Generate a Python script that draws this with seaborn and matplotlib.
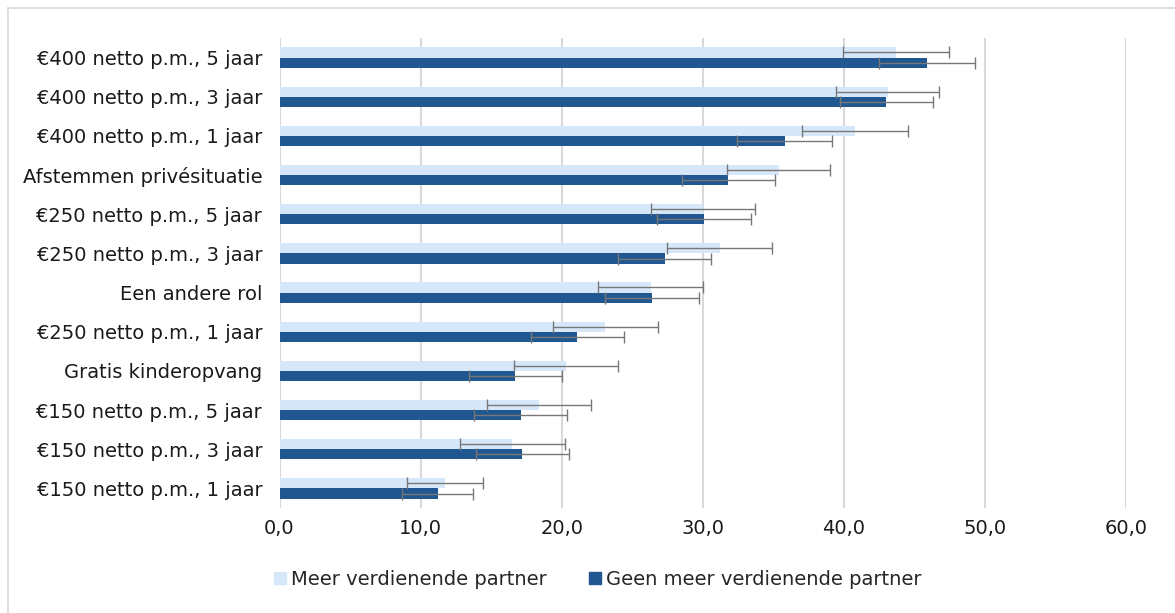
import numpy as np
import pandas as pd
import matplotlib
matplotlib.use('Agg')
import matplotlib.pyplot as plt
from matplotlib.lines import Line2D
import seaborn as sns

# ── Data ───────────────────────────────────────────────────────────────────────
categories = [
    '€400 netto p.m., 5 jaar',
    '€400 netto p.m., 3 jaar',
    '€400 netto p.m., 1 jaar',
    'Afstemmen privésituatie',
    '€250 netto p.m., 5 jaar',
    '€250 netto p.m., 3 jaar',
    'Een andere rol',
    '€250 netto p.m., 1 jaar',
    'Gratis kinderopvang',
    '€150 netto p.m., 5 jaar',
    '€150 netto p.m., 3 jaar',
    '€150 netto p.m., 1 jaar',
]
groups = ['Meer verdienende partner', 'Geen meer verdienende partner']

meer_vals = [43.7, 43.1, 40.8, 35.4, 30.0, 31.2, 26.3, 23.1, 20.3, 18.4, 16.5, 11.7]
meer_err = [3.75, 3.65, 3.75, 3.65, 3.7, 3.7, 3.75, 3.7, 3.7, 3.7, 3.7, 2.7]
geen_vals = [45.9, 43.0, 35.8, 31.8, 30.1, 27.3, 26.4, 21.1, 16.7, 17.1, 17.2, 11.2]
geen_err = [3.4, 3.3, 3.35, 3.3, 3.35, 3.3, 3.35, 3.3, 3.3, 3.3, 3.3, 2.5]

xticks = [0, 10, 20, 30, 40, 50, 60]

colors = ['#D6E7FA', '#215791']

df = pd.DataFrame({
    'categorie': categories * 2,
    'groep': [groups[0]] * len(categories) + [groups[1]] * len(categories),
    'waarde': meer_vals + geen_vals,
})

# ── Plot ───────────────────────────────────────────────────────────────────────
sns.set_style('white')
plt.rcParams['font.family'] = ['DejaVu Sans']

fig = plt.figure(figsize=(11.75, 6.13), dpi=100)
ax = fig.add_axes([0.2379, 0.1713, 0.7204, 0.7667])

sns.barplot(data=df, y='categorie', x='waarde', hue='groep', order=categories,
            hue_order=groups, palette=colors, orient='h', width=0.52,
            errorbar=None, ax=ax, legend=False, saturation=1, linewidth=0)

# error bars on each bar
for cont, errs in zip(ax.containers, [meer_err, geen_err]):
    ys = [p.get_y() + p.get_height() / 2 for p in cont]
    xs = [p.get_width() for p in cont]
    ax.errorbar(xs, ys, xerr=errs, fmt='none', ecolor='#777777',
                elinewidth=1.0, capsize=4, capthick=1.0, zorder=5)

ax.set_xlim(0, 60)
ax.set_xticks(xticks)
ax.set_xticklabels([f'{v:.1f}'.replace('.', ',') for v in xticks])
ax.set_ylim(len(categories) - 0.5, -0.5)
ax.set_xlabel('')
ax.set_ylabel('')
ax.xaxis.grid(True, color='#d9d9d9', linewidth=1.5)
ax.set_axisbelow(True)
for s in ax.spines.values():
    s.set_visible(False)
ax.tick_params(axis='y', length=0, pad=12.5, labelsize=14, labelcolor='#1a1a1a')
ax.tick_params(axis='x', length=0, pad=8, labelsize=14, labelcolor='#1a1a1a')

# legend
handles = [Line2D([0], [0], marker='s', linestyle='none', markersize=9,
                  markerfacecolor=c, markeredgecolor=c) for c in colors]
fig.legend(handles, groups, loc='center', bbox_to_anchor=(0.508, 0.055),
           ncol=2, frameon=False, fontsize=14, handletextpad=0.15,
           columnspacing=2.1, handlelength=0.8)

# chart border (top and left visible)
fig.add_artist(Line2D([8 / 1175, 8 / 1175], [0, 1 - 8 / 613],
                      transform=fig.transFigure, color='#d9d9d9', linewidth=1.2))
fig.add_artist(Line2D([8 / 1175, 1], [1 - 8 / 613, 1 - 8 / 613],
                      transform=fig.transFigure, color='#d9d9d9', linewidth=1.2))

fig.savefig('out.png', dpi=100)
